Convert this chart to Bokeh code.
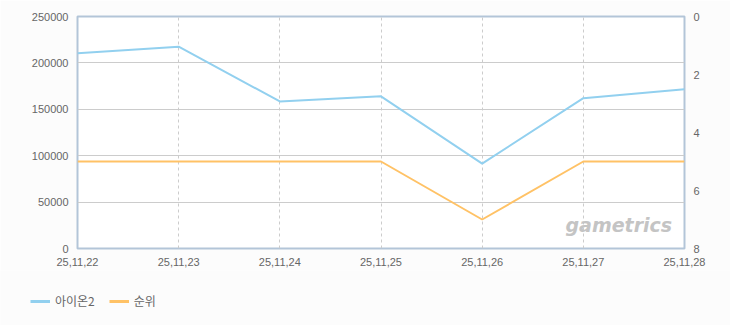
from bokeh.plotting import figure
from bokeh.layouts import column, row
from bokeh.models import (Range1d, LinearAxis, FixedTicker, Legend, LegendItem, Label,
                          ColumnDataSource, BasicTickFormatter)
from bokeh.embed import file_html
from bokeh.resources import INLINE

dates = ["25,11,22", "25,11,23", "25,11,24", "25,11,25", "25,11,26", "25,11,27", "25,11,28"]
aion2 = [210500, 217500, 158500, 164000, 91500, 162000, 171500]
rank = [5, 5, 5, 5, 7, 5, 5]
left_ticks = [0, 50000, 100000, 150000, 200000, 250000]
right_ticks = [0, 2, 4, 6, 8]
series_names = ["아이온2", "순위"]
series_colors = ["#92d0ef", "#ffc266"]

xs = list(range(len(dates)))
FONT = "Liberation Sans"
TXT = "#666666"
BG = "#fcfcfc"

p = figure(width=730, height=270, output_backend="svg", toolbar_location=None,
           x_range=Range1d(0, len(dates) - 1), y_range=Range1d(0, 250000),
           min_border_left=77, min_border_right=46, min_border_top=16, min_border_bottom=22)
p.extra_y_ranges = {"rank": Range1d(start=8, end=0)}

p.border_fill_color = BG
p.background_fill_color = "#ffffff"
p.outline_line_color = "#b3c5d8"
p.outline_line_width = 2

# axes
p.xaxis.ticker = FixedTicker(ticks=xs)
p.xaxis.major_label_overrides = {i: d for i, d in enumerate(dates)}
p.yaxis.ticker = FixedTicker(ticks=left_ticks)
p.yaxis.formatter = BasicTickFormatter(use_scientific=False)
for ax in (p.xaxis[0], p.yaxis[0]):
    ax.axis_line_color = None
    ax.major_tick_line_color = None
    ax.minor_tick_line_color = None
    ax.major_label_text_font = FONT
    ax.major_label_text_font_size = "11px"
    ax.major_label_text_color = TXT
p.xaxis.major_label_standoff = 3
p.yaxis.major_label_standoff = 3

ra = LinearAxis(y_range_name="rank", ticker=FixedTicker(ticks=right_ticks))
ra.axis_line_color = None
ra.major_tick_line_color = None
ra.minor_tick_line_color = None
ra.major_label_text_font = FONT
ra.major_label_text_font_size = "11px"
ra.major_label_text_color = TXT
ra.major_label_standoff = 3
p.add_layout(ra, "right")

# grids
p.ygrid.grid_line_color = "#cccccc"
p.ygrid.grid_line_width = 1
p.xgrid.grid_line_color = "#cccccc"
p.xgrid.grid_line_dash = "3 3"
p.xgrid.ticker = FixedTicker(ticks=xs)

src = ColumnDataSource(dict(x=xs, aion2=aion2, rank=rank))
p.line("x", "aion2", source=src, line_color=series_colors[0], line_width=2)
p.line("x", "rank", source=src, y_range_name="rank", line_color=series_colors[1], line_width=2)

wm = Label(x=488, y=13, x_units="screen", y_units="screen", text="gametrics",
           text_font="DejaVu Sans", text_font_style="bold italic", text_font_size="19px",
           text_color="#c4c4c4")
p.add_layout(wm)

# legend strip
q = figure(width=730, height=55, output_backend="svg", toolbar_location=None,
           x_range=Range1d(0, 1), y_range=Range1d(0, 1),
           x_axis_location=None, y_axis_location=None,
           min_border=0, min_border_left=0, min_border_right=0,
           min_border_top=0, min_border_bottom=0)
q.grid.visible = False
q.outline_line_color = None
q.border_fill_color = BG
q.background_fill_color = BG
items = []
for name, col in zip(series_names, series_colors):
    r = q.line([5, 6], [5, 5], line_color=col, line_width=3)
    items.append(LegendItem(label=name, renderers=[r]))
legend = Legend(items=items, orientation="horizontal", location=(30, 16),
                background_fill_alpha=0, border_line_color=None,
                label_text_font="Noto Sans CJK KR", label_text_font_size="12px",
                label_text_color=TXT, glyph_width=20, glyph_height=12,
                label_standoff=5, spacing=14, padding=0, margin=0)
q.add_layout(legend, "center")

layout = column(p, row(q), spacing=0)
open("out.html", "w").write(file_html(layout, INLINE))
